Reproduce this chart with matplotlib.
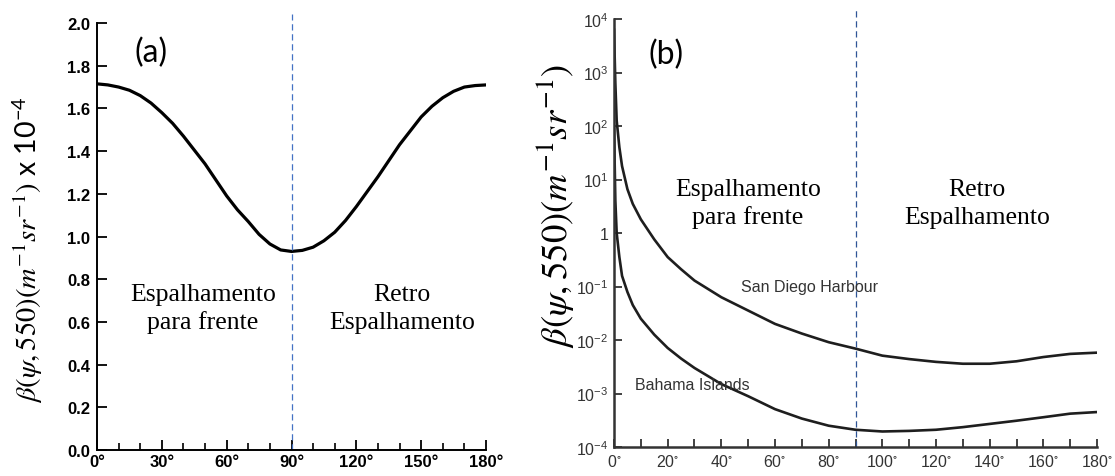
import matplotlib
matplotlib.use("Agg")
import matplotlib.pyplot as plt
from matplotlib.ticker import MultipleLocator, FixedLocator

plt.rcParams['mathtext.fontset'] = 'stix'
plt.rcParams['font.family'] = ['Liberation Sans', 'DejaVu Sans']

# ---------- data: panel (a) ----------
angles_a = [0, 5, 10, 15, 20, 25, 30, 35, 40, 45, 50, 55, 60, 65, 70, 75, 80, 85, 90,
            95, 100, 105, 110, 115, 120, 125, 130, 135, 140, 145, 150, 155, 160, 165, 170, 175, 180]
beta_a = [1.715, 1.71, 1.70, 1.685, 1.66, 1.625, 1.58, 1.53, 1.47, 1.405, 1.34, 1.265, 1.19,
          1.125, 1.07, 1.01, 0.965, 0.937, 0.93, 0.935, 0.95, 0.98, 1.02, 1.075, 1.14, 1.21,
          1.28, 1.355, 1.43, 1.495, 1.56, 1.61, 1.65, 1.68, 1.70, 1.707, 1.71]
yticks_a = [0.0, 0.2, 0.4, 0.6, 0.8, 1.0, 1.2, 1.4, 1.6, 1.8, 2.0]
xticks_a = [0, 30, 60, 90, 120, 150, 180]

# ---------- data: panel (b) ----------
angles_b = [0, 0.5, 1, 2, 3, 5, 7, 10, 15, 20, 25, 30, 40, 50, 60, 70, 80, 90,
            100, 110, 120, 130, 140, 150, 160, 170, 180]
san_diego = [6300, 630, 126, 40, 17.8, 6.6, 3.5, 1.8, 0.76, 0.355, 0.21, 0.129, 0.063,
             0.0355, 0.020, 0.0132, 0.0091, 0.0069, 0.0051, 0.0044, 0.0039, 0.0036,
             0.0036, 0.0040, 0.0048, 0.0055, 0.0058]
bahama = [100, 4.0, 1.0, 0.355, 0.158, 0.079, 0.045, 0.025, 0.0126, 0.0071, 0.0045,
          0.0030, 0.0015, 8.9e-4, 5.1e-4, 3.4e-4, 2.5e-4, 2.1e-4, 1.95e-4, 2.0e-4,
          2.1e-4, 2.35e-4, 2.7e-4, 3.1e-4, 3.6e-4, 4.2e-4, 4.5e-4]
yticks_b = [1e-4, 1e-3, 1e-2, 1e-1, 1, 1e1, 1e2, 1e3, 1e4]
ytick_labels_b = [r'$\mathregular{10^{-4}}$', r'$\mathregular{10^{-3}}$', r'$\mathregular{10^{-2}}$',
                  r'$\mathregular{10^{-1}}$', '1', r'$\mathregular{10^{1}}$',
                  r'$\mathregular{10^{2}}$', r'$\mathregular{10^{3}}$', r'$\mathregular{10^{4}}$']
xticks_b = [0, 20, 40, 60, 80, 100, 120, 140, 160, 180]

W, H = 1115, 477
fig = plt.figure(figsize=(W / 100, H / 100), dpi=100)


def fx(px):
    return px / W


def fy(py):
    return 1 - py / H


# ---------- panel (a) ----------
axa = fig.add_axes([fx(97), fy(451), fx(486) - fx(97), fy(24) - fy(451)])
axa.plot(angles_a, beta_a, color='black', lw=2.3, solid_capstyle='round',
         solid_joinstyle='round')
axa.set_xlim(0, 180)
axa.set_ylim(0, 2.0)
for s in ['top', 'right']:
    axa.spines[s].set_visible(False)
for s in ['left', 'bottom']:
    axa.spines[s].set_linewidth(1.4)
axa.set_yticks(yticks_a)
axa.set_yticklabels([f'{v:.1f}' for v in yticks_a])
axa.set_xticks(xticks_a)
axa.set_xticklabels([f'{v}°' for v in xticks_a])
axa.xaxis.set_minor_locator(MultipleLocator(10))
axa.tick_params(axis='both', which='major', direction='in', length=7, width=1.3,
                labelsize=12, pad=5)
axa.tick_params(axis='x', which='minor', direction='in', length=5, width=1.2)
for lab in axa.get_xticklabels() + axa.get_yticklabels():
    lab.set_fontweight('bold')
axa.tick_params(axis='x', pad=3)
axa.axvline(90, ymin=0, ymax=(451 - 15) / (451 - 24), color='#4472C4', lw=0.9,
            ls=(0, (5, 3)), clip_on=False)

# ---------- panel (b) ----------
axb = fig.add_axes([fx(614), fy(448), fx(1097) - fx(614), fy(20) - fy(448)])
axb.plot(angles_b, san_diego, color='#1e1e1e', lw=1.9, solid_joinstyle='round')
axb.plot(angles_b, bahama, color='#1e1e1e', lw=1.9, solid_joinstyle='round')
axb.set_yscale('log')
axb.set_xlim(0, 180)
axb.set_ylim(1e-4, 1e4)
for s in ['top', 'right']:
    axb.spines[s].set_visible(False)
for s in ['left', 'bottom']:
    axb.spines[s].set_linewidth(1.8)
    axb.spines[s].set_color('#333333')
axb.yaxis.set_major_locator(FixedLocator(yticks_b))
axb.yaxis.set_minor_locator(FixedLocator([]))
axb.set_yticklabels(ytick_labels_b)
axb.set_xticks(xticks_b)
axb.set_xticklabels([rf'{v}$\mathregular{{^{{\circ}}}}$' for v in xticks_b])
axb.xaxis.set_minor_locator(MultipleLocator(10))
axb.tick_params(axis='both', which='major', direction='in', length=6, width=1.3,
                labelsize=11.5, labelcolor='#333333', color='#333333', pad=4)
axb.tick_params(axis='x', which='minor', direction='in', length=6, width=1.3, color='#333333')
axb.axvline(90, ymin=0, ymax=(448 - 10) / (448 - 20), color='#2F5597', lw=0.9,
            ls=(0, (5, 3)), clip_on=False)

axb.text(73, 0.1, 'San Diego Harbour', fontsize=11.5, color='#333333', ha='center', va='center')
axb.text(29, 1.45e-3, 'Bahama Islands', fontsize=11.5, color='#333333', ha='center', va='center')

# ---------- annotations ----------
serif = ['Liberation Serif', 'DejaVu Serif']
fig.text(fx(203), fy(309), 'Espalhamento\npara frente', family=serif, fontsize=18.5,
         ha='center', va='center', linespacing=1.3)
fig.text(fx(402), fy(309), 'Retro\nEspalhamento', family=serif, fontsize=18.5,
         ha='center', va='center', linespacing=1.3)
fig.text(fx(748), fy(204), 'Espalhamento\npara frente', family=serif, fontsize=18.5,
         ha='center', va='center', linespacing=1.3)
fig.text(fx(977), fy(204), 'Retro\nEspalhamento', family=serif, fontsize=18.5,
         ha='center', va='center', linespacing=1.3)

fig.text(fx(151), fy(53), '(a)', family=['Lato', 'DejaVu Sans'], fontsize=23,
         ha='center', va='center')
fig.text(fx(666), fy(55), '(b)', family=['Lato', 'DejaVu Sans'], fontsize=23,
         ha='center', va='center')

fig.text(fx(28), fy(250), r'$\beta(\psi, 550)(m^{-1}sr^{-1})$ x 10$^{\mathregular{-4}}$',
         family=['Lato', 'DejaVu Sans'], fontsize=20.5, rotation=90, ha='center', va='center')
fig.text(fx(555), fy(206), r'$\beta(\psi, 550)(m^{-1}sr^{-1})$',
         family=['Lato', 'DejaVu Sans'], fontsize=26.5, rotation=90, ha='center', va='center')

fig.savefig('out.png', dpi=100)
